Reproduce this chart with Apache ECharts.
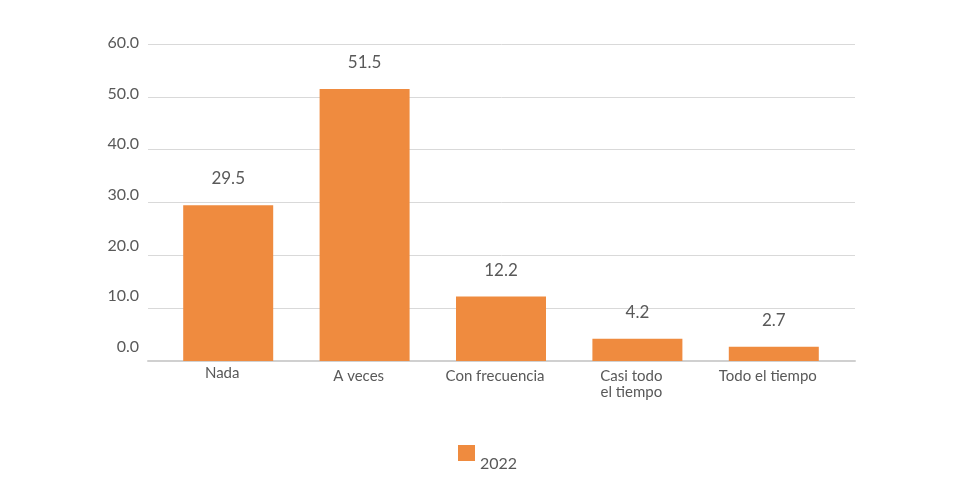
<!DOCTYPE html>
<html><head><meta charset="utf-8">
<script src="https://cdn.jsdelivr.net/npm/echarts@6/dist/echarts.min.js"></script>
<style>html,body{margin:0;padding:0;background:#fff}#c{width:980px;height:486px}</style>
</head><body><div id="c"></div>
<script>
const categories = ['Nada', 'A veces', 'Con frecuencia', 'Casi todo\nel tiempo', 'Todo el tiempo'];
const values2022 = [29.5, 51.5, 12.2, 4.2, 2.7];
const seriesName = '2022';
const yMin = 0, yMax = 60, yStep = 10;

const chart = echarts.init(document.getElementById('c'));
const font = 'Lato, "Open Sans", sans-serif';
chart.setOption({
  animation: false,
  backgroundColor: '#ffffff',
  textStyle: { fontFamily: font },
  legend: {
    data: [seriesName],
    left: 453, top: 440,
    itemWidth: 17, itemHeight: 16, itemGap: 8,
    icon: 'rect',
    formatter: n => '{t|' + n + '}',
    textStyle: { fontSize: 16, color: '#595959', fontFamily: font,
      rich: { t: { fontSize: 16, color: '#595959', fontFamily: font, padding: [22, 0, 0, 0] } } }
  },
  grid: [
    { left: 148, right: 125, top: 44, bottom: 125 },
    { left: 160, right: 138, top: 44, bottom: 125 },
    { left: 148, right: 125, top: 43, bottom: 139 }
  ],
  xAxis: [
    { gridIndex: 0, type: 'category', data: categories, axisLabel: { show: false }, axisTick: { show: false },
      axisLine: { show: true, lineStyle: { color: '#D0D0D0', width: 2 } } },
    { gridIndex: 1, type: 'category', data: categories, axisTick: { show: false }, axisLine: { show: false },
      axisLabel: { color: '#595959', fontSize: 15, fontFamily: font, margin: 3, lineHeight: 18, interval: 0,
        padding: [0, 12, 0, 0],
        formatter: (v, i) => v.split('\n').map((s, k) => '{' + (i === 0 ? 'a' : (k === 0 ? 'b' : 'c')) + '|' + s + '}').join('\n'),
        rich: {
          a: { fontSize: 15, color: '#595959', fontFamily: font, lineHeight: 18 },
          b: { fontSize: 15, color: '#595959', fontFamily: font, lineHeight: 18, padding: [6, 0, 0, 0] },
          c: { fontSize: 15, color: '#595959', fontFamily: font, lineHeight: 18, padding: [3, 0, 0, 0] }
        } } },
    { gridIndex: 2, type: 'value', show: false, min: 0, max: 1 }
  ],
  yAxis: [
    { gridIndex: 0, type: 'value', min: yMin, max: yMax, interval: yStep, axisLabel: { show: false },
      axisLine: { show: false }, axisTick: { show: false },
      splitLine: { lineStyle: { color: '#D9D9D9', width: 1 } } },
    { gridIndex: 1, type: 'value', min: yMin, max: yMax, interval: yStep, show: false, splitLine: { show: false } },
    { gridIndex: 2, type: 'value', min: yMin, max: yMax, interval: yStep, axisLine: { show: false },
      axisTick: { show: false }, splitLine: { show: false },
      axisLabel: { color: '#595959', fontSize: 16, fontFamily: font, margin: 9,
        formatter: v => v.toFixed(1) } }
  ],
  series: [{
    name: seriesName, type: 'bar', xAxisIndex: 1, yAxisIndex: 1,
    data: values2022, barWidth: 90,
    itemStyle: { color: '#EF8B3F' },
    label: { show: true, position: 'top', distance: 18, color: '#595959', fontSize: 17, fontFamily: font,
      formatter: p => p.value.toFixed(1) }
  }]
});
</script></body></html>
